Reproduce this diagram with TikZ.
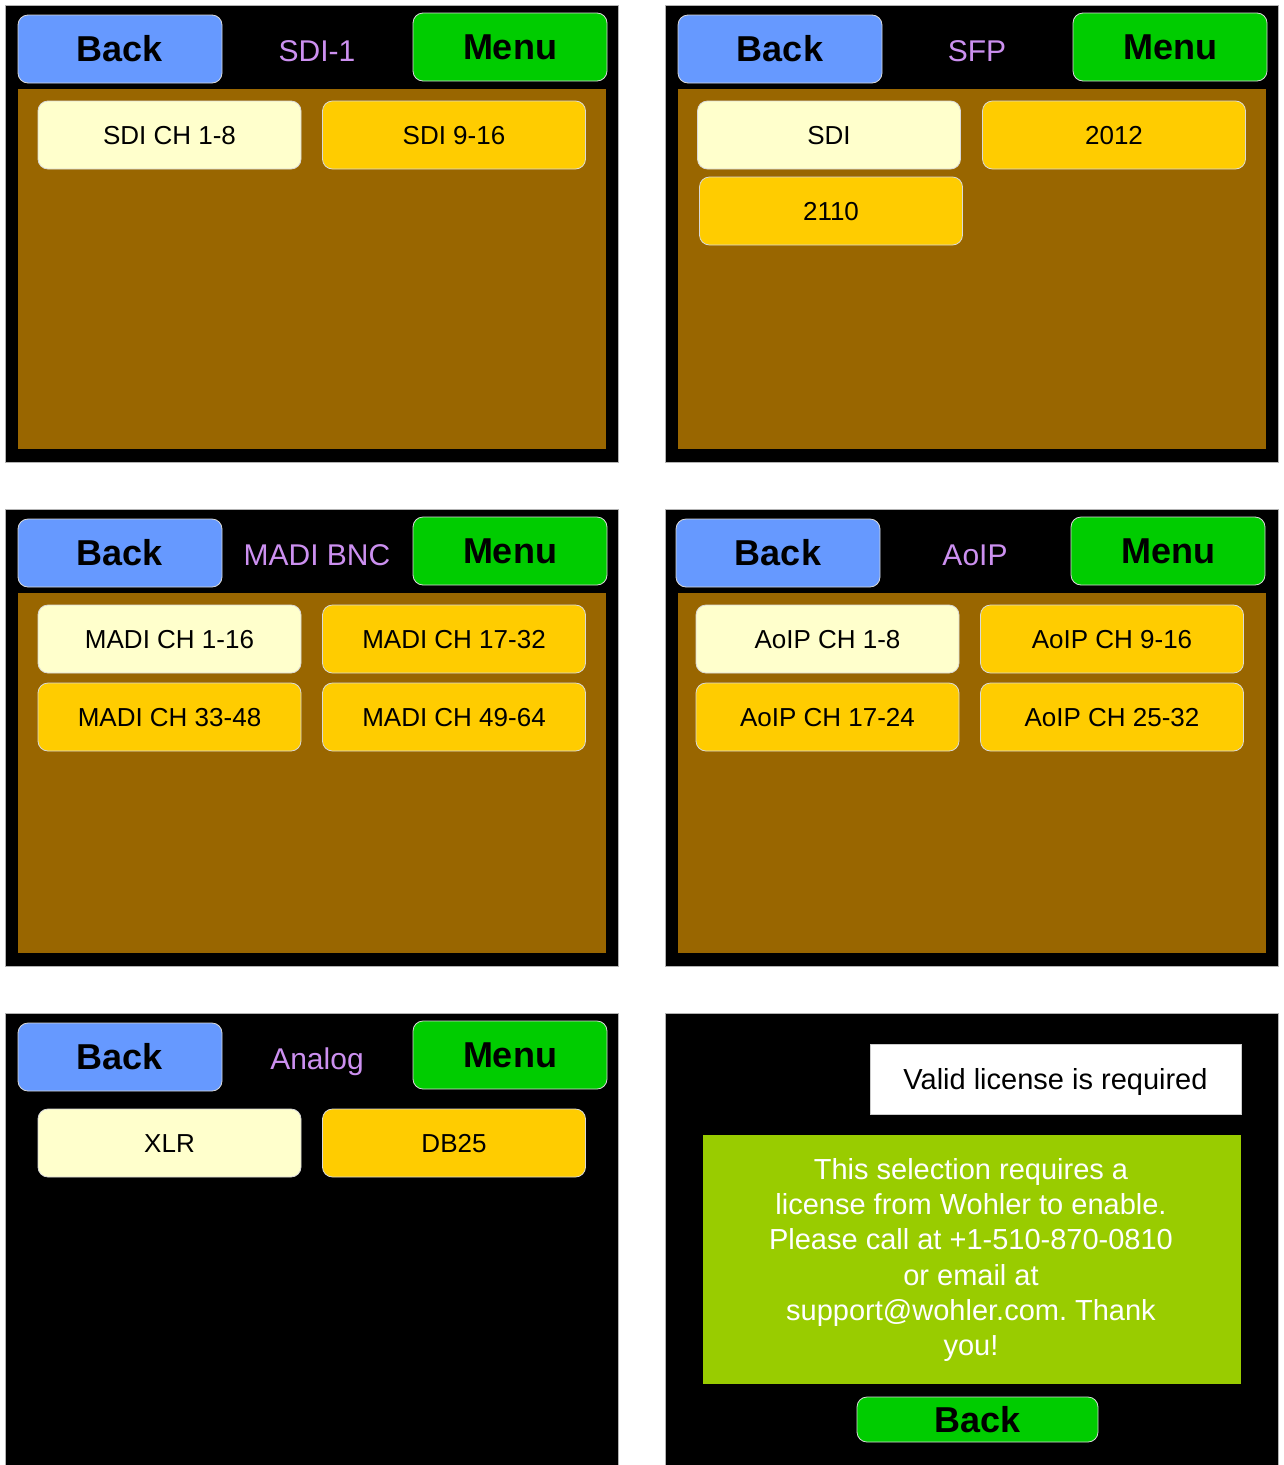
\documentclass[tikz,border=0pt]{standalone}
\usepackage{fontspec}
\setmainfont{Liberation Sans}
\frenchspacing
\definecolor{btnblue}{HTML}{6699FF}
\definecolor{btngreen}{HTML}{00CC00}
\definecolor{brown}{HTML}{996600}
\definecolor{selyellow}{HTML}{FFFFCC}
\definecolor{optyellow}{HTML}{FFCC00}
\definecolor{titleviolet}{HTML}{CC90F0}
\definecolor{lime}{HTML}{99CC00}
\tikzset{
  panel/.style={draw=gray!60, line width=0.8pt, fill=black},
  area/.style={fill=brown, draw=none},
  topbtn/.style={draw=white!85!black, line width=0.8pt, rounded corners=10pt, inner sep=0pt,
    text height=25.8pt, text depth=0pt,
    font=\fontsize{36}{43}\selectfont\bfseries, text=black},
  backbtn/.style={topbtn, fill=btnblue, minimum width=204pt, minimum height=68pt},
  menubtn/.style={topbtn, fill=btngreen, minimum width=194pt, minimum height=68pt},
  title/.style={text=titleviolet, inner sep=0pt, text height=21.5pt, text depth=0pt,
    font=\fontsize{30}{36}\selectfont},
  choice/.style={draw=white!85!black, line width=0.8pt, rounded corners=10pt, inner sep=0pt,
    minimum width=263pt, minimum height=68pt, text height=18.6pt, text depth=0pt,
    font=\fontsize{26}{31}\selectfont, text=black},
  sel/.style={choice, fill=selyellow},
  opt/.style={choice, fill=optyellow},
}
\begin{document}
\begin{tikzpicture}[x=1pt, y=-1pt]
\useasboundingbox (0,0) rectangle (1283,1465);
\fill[white] (0,0) rectangle (1283,1465);

% ---------- Panel 1: SDI-1 ----------
\node[panel, minimum width=613pt, minimum height=457pt, inner sep=0pt] (p1) at (311.5,233.5) {};
\node[area, minimum width=588pt, minimum height=360pt, inner sep=0pt] (a1) at (312,269) {};
\node[backbtn] (p1back) at (120,49) {Back};
\node[title] (p1title) at (317,51) {SDI-1};
\node[menubtn] (p1menu) at (510,47) {Menu};
\node[sel] (p1b1) at (169.5,135) {SDI CH 1-8};
\node[opt] (p1b2) at (454,135) {SDI 9-16};

% ---------- Panel 2: SFP ----------
\node[panel, minimum width=613pt, minimum height=457pt, inner sep=0pt] (p2) at (971.5,233.5) {};
\node[area, minimum width=588pt, minimum height=360pt, inner sep=0pt] (a2) at (972,269) {};
\node[backbtn] (p2back) at (780,49) {Back};
\node[title] (p2title) at (977,51) {SFP};
\node[menubtn] (p2menu) at (1170,47) {Menu};
\node[sel] (p2b1) at (829,135) {SDI};
\node[opt] (p2b2) at (1114,135) {2012};
\node[opt] (p2b3) at (831,211) {2110};

% ---------- Panel 3: MADI BNC ----------
\node[panel, minimum width=613pt, minimum height=457pt, inner sep=0pt] (p3) at (311.5,737.5) {};
\node[area, minimum width=588pt, minimum height=360pt, inner sep=0pt] (a3) at (312,773) {};
\node[backbtn] (p3back) at (120,553) {Back};
\node[title] (p3title) at (317,555) {MADI BNC};
\node[menubtn] (p3menu) at (510,551) {Menu};
\node[sel] (p3b1) at (169.5,639) {MADI CH 1-16};
\node[opt] (p3b2) at (454,639) {MADI CH 17-32};
\node[opt] (p3b3) at (169.5,717) {MADI CH 33-48};
\node[opt] (p3b4) at (454,717) {MADI CH 49-64};

% ---------- Panel 4: AoIP ----------
\node[panel, minimum width=613pt, minimum height=457pt, inner sep=0pt] (p4) at (971.5,737.5) {};
\node[area, minimum width=588pt, minimum height=360pt, inner sep=0pt] (a4) at (972,773) {};
\node[backbtn] (p4back) at (778,553) {Back};
\node[title] (p4title) at (975,555) {AoIP};
\node[menubtn] (p4menu) at (1168,551) {Menu};
\node[sel] (p4b1) at (827.5,639) {AoIP CH 1-8};
\node[opt] (p4b2) at (1112,639) {AoIP CH 9-16};
\node[opt] (p4b3) at (827.5,717) {AoIP CH 17-24};
\node[opt] (p4b4) at (1112,717) {AoIP CH 25-32};

% ---------- Panel 5: Analog ----------
\node[panel, minimum width=613pt, minimum height=454pt, inner sep=0pt] (p5) at (311.5,1240) {};
\node[backbtn] (p5back) at (120,1057) {Back};
\node[title] (p5title) at (317,1059) {Analog};
\node[menubtn] (p5menu) at (510,1055) {Menu};
\node[sel] (p5b1) at (169.5,1143) {XLR};
\node[opt] (p5b2) at (454,1143) {DB25};

% ---------- Panel 6: License ----------
\node[panel, minimum width=613pt, minimum height=454pt, inner sep=0pt] (p6) at (971.5,1240) {};
\node[fill=white, draw=gray!40, inner sep=0pt, minimum width=371pt, minimum height=70pt,
  text height=20.8pt, text depth=0pt, font=\fontsize{29}{35}\selectfont] (lic) at (1055.5,1079) {Valid license is required};
\node[fill=lime, draw=none, inner sep=0pt, minimum width=538pt, minimum height=249pt] (msgbox) at (972,1259.5) {};
\node[text=white, align=center, inner sep=0pt, font=\fontsize{29}{35.2}\selectfont] (msg) at (971,1260)
  {This selection requires a\\license from Wohler to enable.\\Please call at +1-510-870-0810\\or email at\\support@wohler.com. Thank\\you!};
\node[topbtn, fill=btngreen, minimum width=241pt, minimum height=45pt] (p6back) at (977.5,1419.5) {Back};
\end{tikzpicture}
\end{document}
